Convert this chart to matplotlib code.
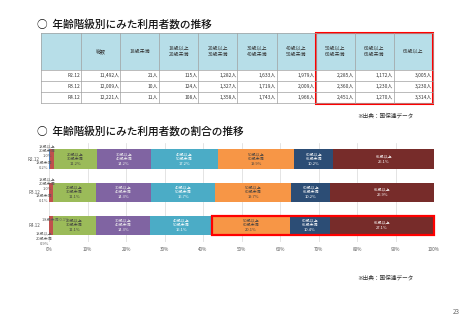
import matplotlib
matplotlib.use("Agg")
import matplotlib.pyplot as plt
import matplotlib.patches as patches
import numpy as np

plt.rcParams['font.family'] = ['Noto Sans CJK JP', 'DejaVu Sans']

# データ
periods = ["R2.12", "R3.12", "R4.12"]
age_groups = ["18歳未満", "18歳以上\n20歳未満", "20歳以上\n30歳未満", "30歳以上\n40歳未満",
              "40歳以上\n50歳未満", "50歳以上\n60歳未満", "60歳以上\n65歳未満", "65歳以上"]
totals = [11492, 12009, 12221]
counts_r2 = [21, 115, 1282, 1633, 1979, 2285, 1172, 3005]
counts_r3 = [10, 124, 1327, 1719, 2009, 2360, 1230, 3230]
counts_r4 = [11, 108, 1358, 1743, 1966, 2451, 1270, 3314]
counts = np.array([counts_r2, counts_r3, counts_r4])

seg_colors = ["#4F81BD", "#C0504D", "#9BBB59", "#8064A2",
              "#4BACC6", "#F79646", "#2C4D75", "#772C2A"]
label_colors = ["#404040", "#404040", "#404040", "#eeeeee",
                "#ffffff", "#404040", "#ffffff", "#ffffff"]

W, H = 462, 320
fig = plt.figure(figsize=(W / 100, H / 100), dpi=100)

# 全体用（ピクセル座標）
bg = fig.add_axes([0, 0, 1, 1])
bg.set_xlim(0, W)
bg.set_ylim(H, 0)
bg.axis("off")

bg.text(37, 24, "○  年齢階級別にみた利用者数の推移", fontsize=7.7, va="center",
        color="#111111", fontweight="medium")
bg.text(37, 131, "○  年齢階級別にみた利用者数の割合の推移", fontsize=7.7, va="center",
        color="#111111", fontweight="medium")

# 表
col_edges = np.concatenate([[41], 81 + 39.1 * np.arange(10)])
row_edges = [33, 70, 81, 92, 103]
grid_c = "#a0a0a0"
bg.add_patch(patches.Rectangle((col_edges[0], row_edges[0]), col_edges[-1] - col_edges[0],
                               row_edges[1] - row_edges[0], facecolor="#B7DEE8", edgecolor="none"))
for x in col_edges:
    bg.plot([x, x], [row_edges[0], row_edges[-1]], color=grid_c, lw=0.5)
for y in row_edges:
    bg.plot([col_edges[0], col_edges[-1]], [y, y], color=grid_c, lw=0.5)

headers = ["", "総数"] + [g for g in age_groups]
for j, h in enumerate(headers):
    cx = (col_edges[j] + col_edges[j + 1]) / 2
    bg.text(cx, (row_edges[0] + row_edges[1]) / 2, h, fontsize=3.6, ha="center", va="center",
            color="#333333", linespacing=1.3)
for i, p in enumerate(periods):
    cy = (row_edges[i + 1] + row_edges[i + 2]) / 2
    bg.text(col_edges[1] - 1, cy, p, fontsize=3.5, ha="right", va="center", color="#333333")
    vals = [totals[i]] + list(counts[i])
    for j, v in enumerate(vals):
        bg.text(col_edges[j + 2] - 0.8, cy, f"{v:,}人", fontsize=3.5, ha="right",
                va="center", color="#333333")

bg.add_patch(patches.Rectangle((col_edges[7], row_edges[0]), col_edges[-1] - col_edges[7],
                               row_edges[-1] - row_edges[0] + 0.5, fill=False,
                               edgecolor="#ff0000", lw=1.5))

bg.text(357, 116, "※出典：国保連データ", fontsize=4.1, va="center", color="#333333")
bg.text(357, 278, "※出典：国保連データ", fontsize=4.1, va="center", color="#333333")
bg.text(460, 312, "23", fontsize=4.5, ha="right", va="center", color="#666666")

# 帯グラフ
ax = fig.add_axes([49 / W, 1 - 242 / H, 385 / W, 99.5 / H])
shares = counts / counts.sum(axis=1, keepdims=True)
ypos = np.arange(len(periods))
bar_h = 0.58
left = np.zeros(len(periods))
for k in range(len(age_groups)):
    ax.barh(ypos, shares[:, k], left=left, height=bar_h, color=seg_colors[k], zorder=2)
    if k >= 2:
        for i in range(len(periods)):
            ax.text(left[i] + shares[i, k] / 2, ypos[i],
                    f"{age_groups[k]}\n{shares[i, k]:.1%}", fontsize=2.9,
                    ha="center", va="center", color=label_colors[k], linespacing=1.35, zorder=3)
    left = left + shares[:, k]

# 小さい区分のラベル
lab_c = "#595959"
for i in range(2):
    ax.annotate(f"{age_groups[1]}\n{shares[i, 1]:.1%}", xy=(0, ypos[i]), xytext=(-1.2, 5.8),
                textcoords="offset points", fontsize=2.9, ha="center", va="center",
                color=lab_c, linespacing=1.3, annotation_clip=False)
    ax.annotate(f"{age_groups[0]}\n{shares[i, 0]:.1%}", xy=(0, ypos[i]), xytext=(-3.8, -4.6),
                textcoords="offset points", fontsize=2.9, ha="center", va="center",
                color=lab_c, linespacing=1.3, annotation_clip=False)
ax.annotate(f"{age_groups[0]} {shares[2, 0]:.1%}", xy=(0, ypos[2]), xytext=(4.3, 4.0),
            textcoords="offset points", fontsize=2.9, ha="center", va="center",
            color=lab_c, annotation_clip=False, zorder=4)
ax.annotate(f"{age_groups[1]}\n{shares[2, 1]:.1%}", xy=(0, ypos[2]), xytext=(-3.4, -9.7),
            textcoords="offset points", fontsize=2.9, ha="center", va="center",
            color=lab_c, linespacing=1.3, annotation_clip=False)

# 赤枠（R4.12 の 50歳以上）
start = shares[2, :5].sum()
ax.add_patch(patches.Rectangle((start, ypos[2] - bar_h / 2), 1 - start, bar_h, fill=False,
                               edgecolor="#ff0000", lw=1.6, zorder=5, clip_on=False))

ax.set_xlim(0, 1)
ax.set_ylim(len(periods) - 0.5, -0.5)
ax.set_xticks(np.linspace(0, 1, 11))
ax.set_xticklabels([f"{int(t)}%" for t in np.linspace(0, 100, 11)])
ax.set_yticks(ypos)
ax.set_yticklabels(periods)
ax.tick_params(axis="both", length=0, labelsize=3.3, labelcolor=lab_c)
ax.tick_params(axis="x", pad=3.5)
ax.tick_params(axis="y", pad=6.5)
ax.grid(axis="x", color="#d9d9d9", lw=0.5, zorder=0)
for s in ax.spines.values():
    s.set_visible(False)

fig.savefig("out.png", dpi=100)
